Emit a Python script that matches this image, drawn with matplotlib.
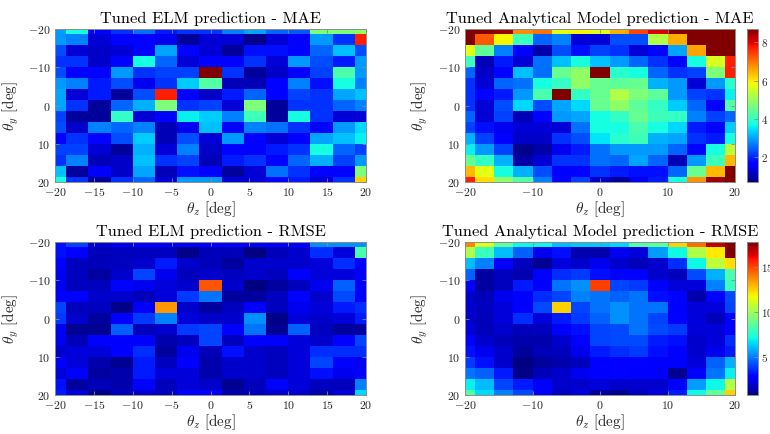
import numpy as np
import matplotlib
matplotlib.use("Agg")
import matplotlib.pyplot as plt

plt.rcParams["font.family"] = "serif"
plt.rcParams["font.serif"] = ["cmr10", "DejaVu Serif"]
plt.rcParams["mathtext.fontset"] = "cm"
plt.rcParams["axes.formatter.use_mathtext"] = True
plt.rcParams["axes.unicode_minus"] = True

# Grid of rotation angles (deg): rows = theta_y, columns = theta_z
theta_z = np.linspace(-20, 20, 15)
theta_y = np.linspace(-20, 20, 15)

# Mean absolute error maps
elm_mae = [
    [2.9, 3.7, 1.7, 2.1, 2.6, 1.9, 2.1, 2.1, 2.7, 3.0, 2.5, 2.4, 4.7, 4.7, 4.9],
    [2.9, 2.7, 1.3, 1.7, 1.7, 1.5, 0.9, 1.3, 1.3, 0.8, 1.3, 1.7, 2.9, 2.1, 7.7],
    [2.3, 1.3, 1.2, 1.3, 1.7, 3.0, 1.7, 1.3, 0.9, 1.8, 1.8, 1.7, 2.5, 3.2, 2.3],
    [2.1, 2.1, 1.2, 1.7, 3.7, 2.5, 1.3, 1.7, 1.7, 2.1, 1.3, 2.9, 2.3, 1.9, 2.9],
    [2.3, 1.7, 1.7, 2.9, 2.1, 2.2, 2.2, 8.8, 2.1, 0.9, 1.2, 1.7, 2.2, 4.2, 2.9],
    [2.9, 2.7, 1.9, 2.3, 1.5, 2.1, 3.3, 4.3, 1.1, 1.1, 1.7, 2.7, 1.8, 3.7, 2.7],
    [3.0, 1.3, 1.9, 0.9, 2.3, 7.7, 1.7, 1.2, 1.9, 2.5, 1.7, 2.2, 2.1, 3.0, 3.2],
    [3.0, 2.1, 0.9, 2.5, 3.1, 4.7, 2.1, 2.2, 1.3, 4.7, 0.9, 2.1, 2.1, 2.5, 2.7],
    [2.2, 0.9, 0.9, 4.0, 1.3, 1.7, 3.6, 3.3, 2.7, 4.1, 0.9, 3.7, 2.1, 1.3, 1.3],
    [2.3, 1.2, 2.7, 2.5, 2.7, 1.1, 1.5, 3.2, 1.7, 2.7, 2.6, 2.1, 1.7, 2.9, 3.4],
    [1.6, 2.1, 1.7, 2.3, 3.3, 1.1, 2.3, 1.3, 2.9, 1.7, 1.3, 1.7, 3.0, 3.2, 3.6],
    [2.2, 2.2, 1.3, 0.9, 3.1, 1.3, 2.7, 1.2, 1.7, 1.7, 1.9, 2.1, 3.7, 2.5, 2.2],
    [2.1, 2.7, 1.1, 1.2, 3.2, 2.1, 2.2, 1.1, 1.9, 2.1, 1.7, 2.5, 3.1, 2.2, 2.9],
    [3.2, 0.9, 1.6, 1.2, 3.0, 1.1, 1.8, 1.7, 0.9, 1.3, 2.6, 2.1, 1.7, 1.7, 4.7],
    [3.7, 2.1, 0.9, 2.1, 2.5, 1.3, 2.9, 2.9, 1.3, 1.3, 1.7, 1.9, 1.3, 2.1, 6.2],
]

am_mae = [
    [9.4, 9.6, 8.5, 6.8, 7.0, 5.7, 5.9, 5.7, 6.5, 7.4, 8.1, 9.3, 9.8, 10.1, 10.4],
    [9.2, 7.2, 5.9, 4.1, 2.5, 2.7, 1.3, 1.3, 2.3, 2.3, 5.2, 6.5, 9.1, 9.7, 9.9],
    [5.7, 4.4, 2.7, 1.7, 1.0, 2.3, 1.8, 2.2, 2.1, 1.3, 1.7, 3.0, 6.6, 9.0, 9.3],
    [4.1, 1.1, 1.9, 1.3, 2.6, 3.2, 3.7, 3.2, 2.9, 2.5, 2.1, 1.7, 3.7, 5.6, 7.7],
    [2.5, 1.2, 1.7, 3.2, 2.6, 4.5, 4.9, 9.2, 3.9, 3.7, 2.5, 2.1, 2.2, 4.7, 7.7],
    [2.1, 1.3, 2.5, 2.6, 3.7, 4.0, 4.9, 4.5, 4.4, 4.5, 3.1, 2.9, 1.3, 2.9, 3.9],
    [2.1, 1.7, 1.9, 2.9, 4.2, 9.0, 4.0, 4.5, 5.2, 4.7, 4.4, 2.9, 2.2, 2.1, 3.6],
    [2.1, 1.3, 2.3, 3.4, 2.3, 3.0, 3.4, 4.5, 4.9, 4.4, 4.0, 3.3, 2.5, 1.7, 4.3],
    [2.5, 1.3, 2.2, 1.1, 1.7, 2.9, 3.0, 3.7, 4.0, 4.5, 4.1, 4.0, 2.7, 2.2, 2.5],
    [2.2, 1.8, 1.5, 1.3, 1.3, 1.3, 2.6, 3.7, 3.7, 4.2, 3.7, 3.4, 1.9, 1.7, 3.3],
    [3.1, 2.2, 1.7, 1.2, 1.2, 2.1, 2.3, 3.5, 3.9, 4.1, 3.1, 3.0, 2.1, 1.9, 3.7],
    [3.6, 2.9, 2.2, 0.8, 1.0, 1.5, 1.9, 2.6, 2.9, 2.9, 2.9, 2.5, 1.7, 3.7, 5.3],
    [4.5, 4.0, 3.1, 1.0, 1.3, 2.1, 2.1, 2.6, 2.5, 3.0, 2.5, 1.1, 2.9, 4.1, 6.4],
    [6.4, 5.7, 3.7, 3.1, 2.3, 1.6, 1.6, 2.1, 1.9, 1.8, 1.8, 2.5, 4.5, 6.4, 9.0],
    [7.7, 6.1, 4.9, 4.3, 2.7, 1.7, 2.2, 1.2, 0.9, 1.5, 1.9, 3.7, 6.7, 8.5, 9.3],
]

# Root mean square error maps
elm_rmse = [
    [3.1, 4.0, 2.1, 2.4, 2.8, 2.8, 2.6, 2.6, 2.9, 2.9, 2.6, 2.6, 5.3, 5.3, 5.3],
    [3.1, 2.8, 1.6, 1.7, 1.7, 1.7, 0.9, 1.6, 1.6, 0.7, 1.6, 1.9, 3.6, 2.1, 8.2],
    [2.8, 1.7, 1.6, 1.7, 1.9, 3.3, 1.9, 1.6, 1.2, 1.9, 1.9, 1.9, 2.1, 3.6, 2.6],
    [2.4, 1.7, 1.2, 1.9, 4.0, 2.4, 1.6, 1.9, 1.7, 1.9, 1.7, 2.8, 2.1, 2.1, 2.6],
    [2.4, 1.7, 1.7, 2.9, 2.4, 2.1, 1.9, 14.7, 1.9, 0.7, 1.2, 1.7, 2.4, 4.5, 2.6],
    [2.8, 2.6, 1.9, 1.9, 1.6, 2.1, 3.8, 4.8, 1.2, 1.2, 1.7, 2.9, 1.9, 4.1, 2.6],
    [4.0, 1.6, 1.7, 0.9, 2.6, 13.5, 1.9, 1.2, 1.7, 2.8, 1.7, 2.4, 2.1, 3.3, 3.6],
    [3.8, 1.9, 1.2, 2.6, 3.8, 5.0, 2.1, 1.9, 1.9, 5.3, 0.9, 2.1, 1.9, 2.1, 3.3],
    [2.4, 1.0, 1.0, 4.5, 1.6, 1.9, 3.8, 4.0, 2.8, 4.8, 1.0, 4.5, 1.7, 1.2, 1.2],
    [2.4, 1.6, 2.8, 2.8, 2.8, 1.4, 1.7, 4.0, 1.7, 2.8, 2.8, 2.1, 1.9, 2.9, 4.0],
    [1.9, 2.1, 2.1, 2.6, 3.6, 1.2, 2.4, 1.6, 3.1, 1.9, 1.7, 2.1, 3.6, 3.6, 3.6],
    [2.6, 2.1, 1.4, 1.0, 3.3, 1.7, 2.8, 1.4, 1.9, 1.9, 1.7, 2.1, 4.0, 2.9, 2.4],
    [2.1, 2.8, 1.2, 1.4, 3.3, 2.1, 2.1, 1.4, 1.9, 1.9, 1.7, 2.1, 3.1, 2.4, 2.8],
    [3.1, 1.2, 1.6, 1.4, 2.9, 1.6, 2.1, 1.9, 1.0, 1.6, 2.8, 2.1, 1.7, 1.6, 5.0],
    [3.3, 2.1, 0.9, 1.7, 1.9, 1.7, 2.8, 2.8, 1.4, 1.6, 1.9, 1.9, 1.4, 2.1, 6.5],
]

am_rmse = [
    [13.9, 11.3, 8.7, 7.0, 7.0, 6.0, 6.2, 6.2, 6.5, 8.4, 8.6, 12.5, 14.2, 16.8, 18.6],
    [10.3, 7.9, 6.0, 4.5, 2.4, 3.1, 1.4, 1.4, 2.4, 2.1, 5.5, 7.0, 10.3, 12.0, 18.2],
    [6.0, 5.0, 2.8, 1.7, 1.0, 2.1, 1.9, 2.4, 1.9, 1.6, 1.9, 3.6, 7.0, 10.6, 12.2],
    [4.5, 1.2, 1.7, 1.4, 2.8, 3.6, 3.8, 3.1, 2.8, 2.8, 1.9, 1.6, 4.1, 5.8, 8.2],
    [2.8, 1.2, 1.7, 3.3, 2.8, 4.8, 5.3, 15.1, 4.0, 3.8, 2.8, 2.1, 2.1, 5.0, 7.9],
    [1.9, 1.6, 2.4, 2.6, 3.6, 4.0, 5.0, 4.8, 4.5, 4.8, 3.1, 2.8, 1.4, 2.9, 4.1],
    [1.9, 1.7, 2.1, 2.8, 4.1, 12.5, 4.0, 4.8, 5.3, 4.8, 4.8, 2.8, 2.1, 2.1, 4.0],
    [1.9, 1.6, 2.1, 3.6, 2.1, 3.3, 3.8, 4.5, 5.3, 4.8, 4.0, 2.9, 2.1, 1.6, 2.8],
    [2.1, 1.6, 1.9, 1.6, 1.7, 2.8, 3.1, 4.0, 4.1, 4.8, 4.1, 3.8, 2.1, 2.1, 2.6],
    [2.8, 1.9, 1.6, 1.4, 1.4, 1.9, 2.6, 4.0, 4.1, 4.1, 3.3, 3.1, 1.9, 2.1, 3.6],
    [3.1, 2.4, 1.9, 1.2, 1.6, 1.7, 2.4, 3.3, 3.6, 3.8, 3.1, 2.8, 1.9, 2.4, 3.3],
    [3.8, 3.1, 1.9, 0.7, 1.2, 1.4, 1.7, 2.8, 2.9, 2.9, 2.8, 2.8, 2.1, 4.5, 5.8],
    [4.8, 4.5, 3.3, 0.9, 1.6, 1.9, 2.4, 2.8, 2.9, 2.6, 2.6, 1.0, 2.8, 4.8, 6.9],
    [6.9, 6.0, 4.0, 3.3, 2.8, 1.9, 1.9, 2.1, 1.9, 1.9, 1.9, 2.8, 5.5, 7.0, 10.4],
    [8.4, 6.5, 5.0, 4.1, 2.8, 1.7, 2.1, 1.2, 1.0, 1.7, 2.1, 3.3, 7.0, 8.7, 12.5],
]

mae_clim = (0.7, 8.7)
rmse_clim = (0.7, 17.8)
mae_cticks = [2, 4, 6, 8]
rmse_cticks = [5, 10, 15]
yticks = [-20, -10, 0, 10, 20]
xticks_wide = [-20, -15, -10, -5, 0, 5, 10, 15, 20]
xticks_narrow = [-20, -10, 0, 10, 20]

W, H = 770, 434
fig = plt.figure(figsize=(W / 100, H / 100), dpi=100)


def px_axes(x0, y0, x1, y1):
    return fig.add_axes([x0 / W, 1 - y1 / H, (x1 - x0) / W, (y1 - y0) / H])


spine_col = "#8c8c8c"
text_col = "#262626"


def heatmap(ax, data, clim, title, xticks, ylabel_x):
    m = ax.pcolormesh(theta_z, theta_y, np.array(data), shading="nearest",
                      cmap="jet", vmin=clim[0], vmax=clim[1])
    ax.set_xlim(-20, 20)
    ax.set_ylim(20, -20)
    ax.set_xticks(xticks)
    ax.set_yticks(yticks)
    ax.tick_params(direction="in", length=3, width=0.6, color=spine_col,
                   labelsize=8.5, labelcolor=text_col, top=True, right=True,
                   pad=3)
    for s in ax.spines.values():
        s.set_color(spine_col)
        s.set_linewidth(0.7)
    ax.set_title(title, fontsize=11.8, pad=4)
    ax.set_xlabel(r"$\theta_z$ [deg]", fontsize=11, labelpad=1, color=text_col)
    ax.set_ylabel(r"$\theta_y$ [deg]", fontsize=11, color=text_col)
    ax.yaxis.set_label_coords(ylabel_x, 0.5)
    return m


def colorbar(m, x0, y0, x1, y1, ticks):
    cax = px_axes(x0, y0, x1, y1)
    cb = fig.colorbar(m, cax=cax, ticks=ticks)
    cb.outline.set_edgecolor(spine_col)
    cb.outline.set_linewidth(0.7)
    cax.tick_params(direction="in", length=3, width=0.6, color=spine_col,
                    labelsize=8, labelcolor=text_col, pad=2.5)
    return cb


ax1 = px_axes(55, 29, 366, 182)
heatmap(ax1, elm_mae, mae_clim, "Tuned ELM prediction - MAE", xticks_wide,
        -0.11)

ax2 = px_axes(465, 29, 735, 182)
m2 = heatmap(ax2, am_mae, mae_clim, "Tuned Analytical Model prediction - MAE",
             xticks_narrow, -0.13)
colorbar(m2, 747, 29, 758, 182, mae_cticks)

ax3 = px_axes(55, 242, 366, 395)
heatmap(ax3, elm_rmse, rmse_clim, "Tuned ELM prediction - RMSE", xticks_wide,
        -0.11)

ax4 = px_axes(465, 242, 735, 395)
m4 = heatmap(ax4, am_rmse, rmse_clim, "Tuned Analytical Model prediction - RMSE",
             xticks_narrow, -0.13)
colorbar(m4, 747, 242, 758, 395, rmse_cticks)

fig.savefig("out.png", dpi=100)
